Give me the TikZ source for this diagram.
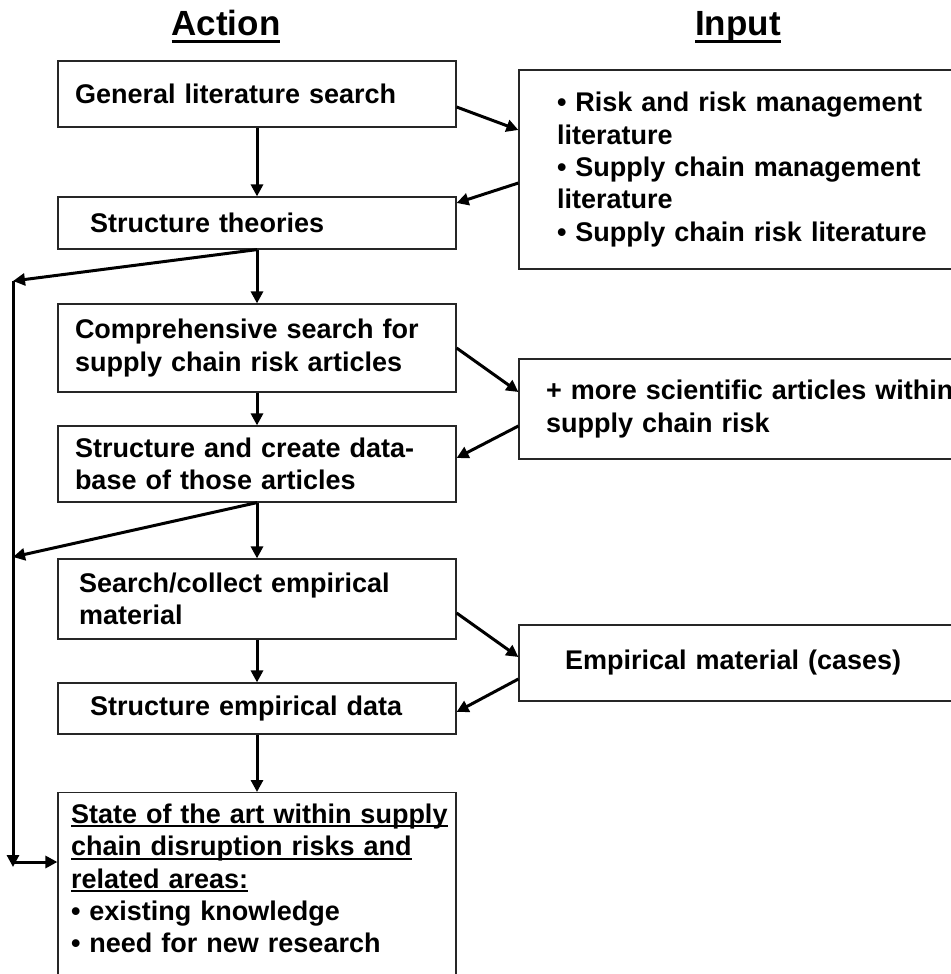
\documentclass[tikz,border=0pt]{standalone}
\usepackage{fontspec}
\setmainfont{Liberation Sans}
\usetikzlibrary{arrows.meta,positioning}
\newcommand{\headul}[1]{\leavevmode{\setbox0\hbox{#1}\rlap{\rule[-3.5pt]{\wd0}{1.4pt}}\box0}}
\newcommand{\boxul}[1]{\leavevmode{\setbox0\hbox{#1}\rlap{\rule[-2pt]{\wd0}{1pt}}\box0}}
\begin{document}
\begin{tikzpicture}
    [x=0.5pt, y=-0.5pt,
    every node/.style={font=\fontsize{13.5pt}{16.2pt}\selectfont\bfseries},
    head/.style={font=\fontsize{17.5pt}{21pt}\selectfont\bfseries, anchor=base, inner sep=0pt},
    actbox/.style 2 args={draw=black!85, line width=0.6pt, align=left,
      minimum width=199pt, inner xsep=#1, text width=#2},
    inbox/.style 2 args={draw=black!85, line width=0.6pt, align=left,
      minimum width=240.5pt, inner xsep=#1, text width=#2},
    flow/.style={-{Triangle[length=6pt,width=6pt]}, line width=1.5pt}]
    \useasboundingbox (0,0) rectangle (951,974);
    \clip (0,0) rectangle (951,974);
    % column heads
    \node[head] (action) at (226,36) {\headul{Action}};
    \node[head] (input) at (738,36) {\headul{Input}};
    % action column
    \node[actbox={8.5pt}{182pt}, minimum height=33pt] (gls) at (257,94)
      {General literature search};
    \node[actbox={16pt}{167pt}, minimum height=26pt] (sth) at (257,223)
      {Structure theories};
    \node[actbox={8.5pt}{182pt}, minimum height=44pt] (csr) at (257,348)
      {Comprehensive search for\\supply chain risk articles};
    \node[actbox={8.5pt}{182pt}, minimum height=38pt] (dba) at (257,464)
      {Structure and create data-\\base of those articles};
    \node[actbox={10.5pt}{178pt}, minimum height=40pt] (sce) at (257,599)
      {Search/collect empirical\\material};
    \node[actbox={16pt}{167pt}, minimum height=25.5pt] (sed) at (257,708.5)
      {Structure empirical data};
    \node[actbox={6.5pt}{186pt}, anchor=north, inner ysep=5.6pt, text depth=82pt] (soa) at (257,792)
      {\boxul{State of the art within supply}\\
       \boxul{chain disruption risks and}\\
       \boxul{related areas:}\\
       • existing knowledge\\
       • need for new research};
    % input column
    \node[inbox={19pt}{202.5pt}, minimum height=99.5pt] (lit) at (759.5,169.5)
      {• Risk and risk management\\literature\\
       • Supply chain management\\literature\\
       • Supply chain risk literature};
    \node[inbox={13.5pt}{213.5pt}, minimum height=50pt] (sci) at (759.5,409)
      {+ more scientific articles within\\supply chain risk};
    \node[inbox={23pt}{194.5pt}, minimum height=38pt] (emp) at (759.5,663)
      {Empirical material (cases)};
    % feedback line on the left
    \coordinate (fbtop) at (13,281);
    \coordinate (fbmid) at (13,557);
    \coordinate (fbbot) at (13,867);
    \coordinate (fbturn) at (13,862);
    % main flow
    \draw[flow] (gls) -- (sth);
    \draw[flow] (sth) -- (csr);
    \draw[flow] (csr) -- (dba);
    \draw[flow] (dba) -- (sce);
    \draw[flow] (sce) -- (sed);
    \draw[flow] (sed) -- (soa);
    % to and from the inputs
    \draw[flow] ([yshift=-6.5pt]gls.east) -- ([yshift=19.75pt]lit.west);
    \draw[flow] ([yshift=-6.75pt]lit.west) -- ([yshift=10pt]sth.east);
    \draw[flow] (csr.east) -- ([yshift=8.5pt]sci.west);
    \draw[flow] ([yshift=-8.5pt]sci.west) -- ([yshift=3pt]dba.east);
    \draw[flow] ([yshift=-7pt]sce.east) -- ([yshift=3pt]emp.west);
    \draw[flow] ([yshift=-8pt]emp.west) -- ([yshift=-1.75pt]sed.east);
    % straight to the result
    \draw[flow] (sth.south) -- (fbtop);
    \draw[flow] (dba.south) -- (fbmid);
    \draw[flow] (fbtop) -- (fbbot);
    \draw[flow] (fbturn) -- (fbturn -| soa.west);
\end{tikzpicture}
\end{document}
